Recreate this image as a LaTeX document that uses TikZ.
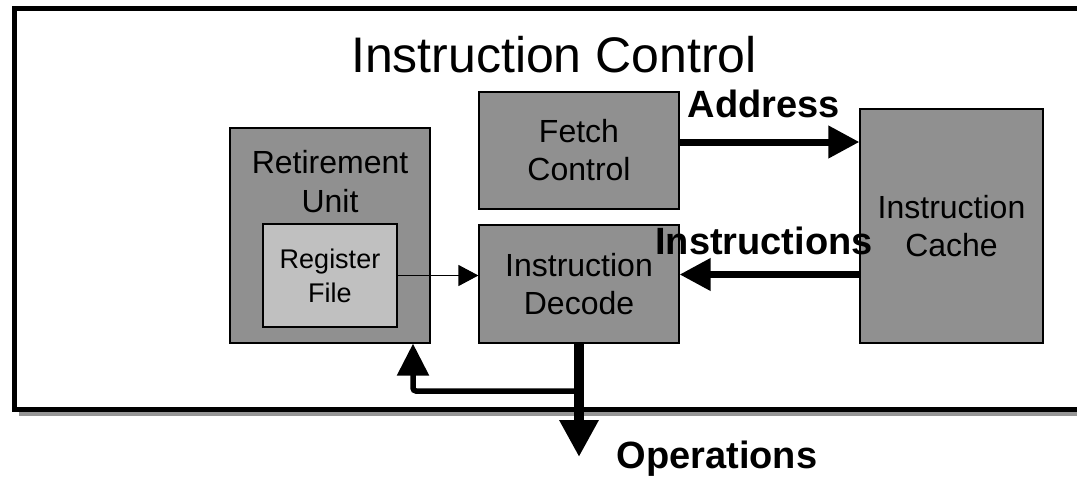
\documentclass[tikz,border=0pt]{standalone}
\usepackage{fontspec}
\setmainfont{Liberation Sans}
\usetikzlibrary{arrows.meta}
\definecolor{boxgray}{RGB}{144,144,144}
\definecolor{reggray}{RGB}{192,192,192}
\definecolor{shadowgray}{RGB}{150,150,150}
\tikzset{
  blk/.style={draw=black, line width=1.2pt, fill=boxgray, inner sep=0pt, align=center,
              font=\fontsize{32}{38}\selectfont},
  regbox/.style={draw=black, line width=1.2pt, fill=reggray, inner sep=0pt, align=center,
              font=\fontsize{27}{34}\selectfont},
  boxtext/.style={inner sep=0pt, align=center, font=\fontsize{32}{39}\selectfont},
  lbl/.style={inner sep=0pt, font=\fontsize{38}{44}\selectfont\bfseries},
  ttl/.style={inner sep=0pt, font=\fontsize{50}{56}\selectfont},
  bigarrow/.style={line width=7pt, -{Triangle[length=31pt,width=31pt]}},
  opsarrow/.style={line width=10pt, -{Triangle[length=37pt,width=37pt]}},
  fbarrow/.style={line width=5.5pt, rounded corners=3pt, -{Triangle[length=32pt,width=31pt]}},
  thinarrow/.style={line width=1.2pt, -{Triangle[length=20pt,width=21pt]}},
}
\begin{document}
\begin{tikzpicture}[x=1pt,y=-1pt]
\useasboundingbox (0,0) rectangle (1077,477);
\clip (0,0) rectangle (1077,477);
% outer frame with shadow
\fill[shadowgray] (18.5,14.6) rectangle (1095,415.5);
\draw[line width=4.5pt, fill=white] (14.5,8.6) rectangle (1090,409.5);
\node[ttl, anchor=base] (title) at (554,72) {Instruction Control};
% boxes
\node[blk, minimum width=200pt, minimum height=215pt] (ret) at (330,235.5) {};
\node[boxtext, anchor=north] (rettxt) at (330,150) {Retirement\\Unit};
\node[regbox, minimum width=134pt, minimum height=103pt] (reg) at (330,275.5) {Register\\File};
\node[blk, minimum width=200pt, minimum height=117pt] (fetch) at (579,150.5) {Fetch\\Control};
\node[blk, minimum width=200pt, minimum height=118pt] (decode) at (579,284) {Instruction\\Decode};
\node[blk, minimum width=183pt, minimum height=234pt] (cache) at (951.5,226) {Instruction\\Cache};
% connectors
\draw[bigarrow] ([yshift=8.5pt]fetch.east) -- ([yshift=8.5pt]fetch.east -| cache.west);
\draw[bigarrow] ([yshift=9.5pt]decode.east -| cache.west) -- ([yshift=9.5pt]decode.east);
\draw[thinarrow] (reg.east) -- (reg.east -| decode.west);
\coordinate (fb) at (579,391);
\coordinate (opsend) at (579,457);
\draw[fbarrow] (fb) -| ([xshift=83pt]ret.south);
\draw[opsarrow] (decode.south) -- (opsend);
% labels
\node[lbl, anchor=base] (addr) at (764,117) {Address};
\node[lbl, anchor=base] (instr) at (764,254) {Instructions};
\node[lbl, anchor=base] (ops) at (717,468) {Operations};
\end{tikzpicture}
\end{document}
